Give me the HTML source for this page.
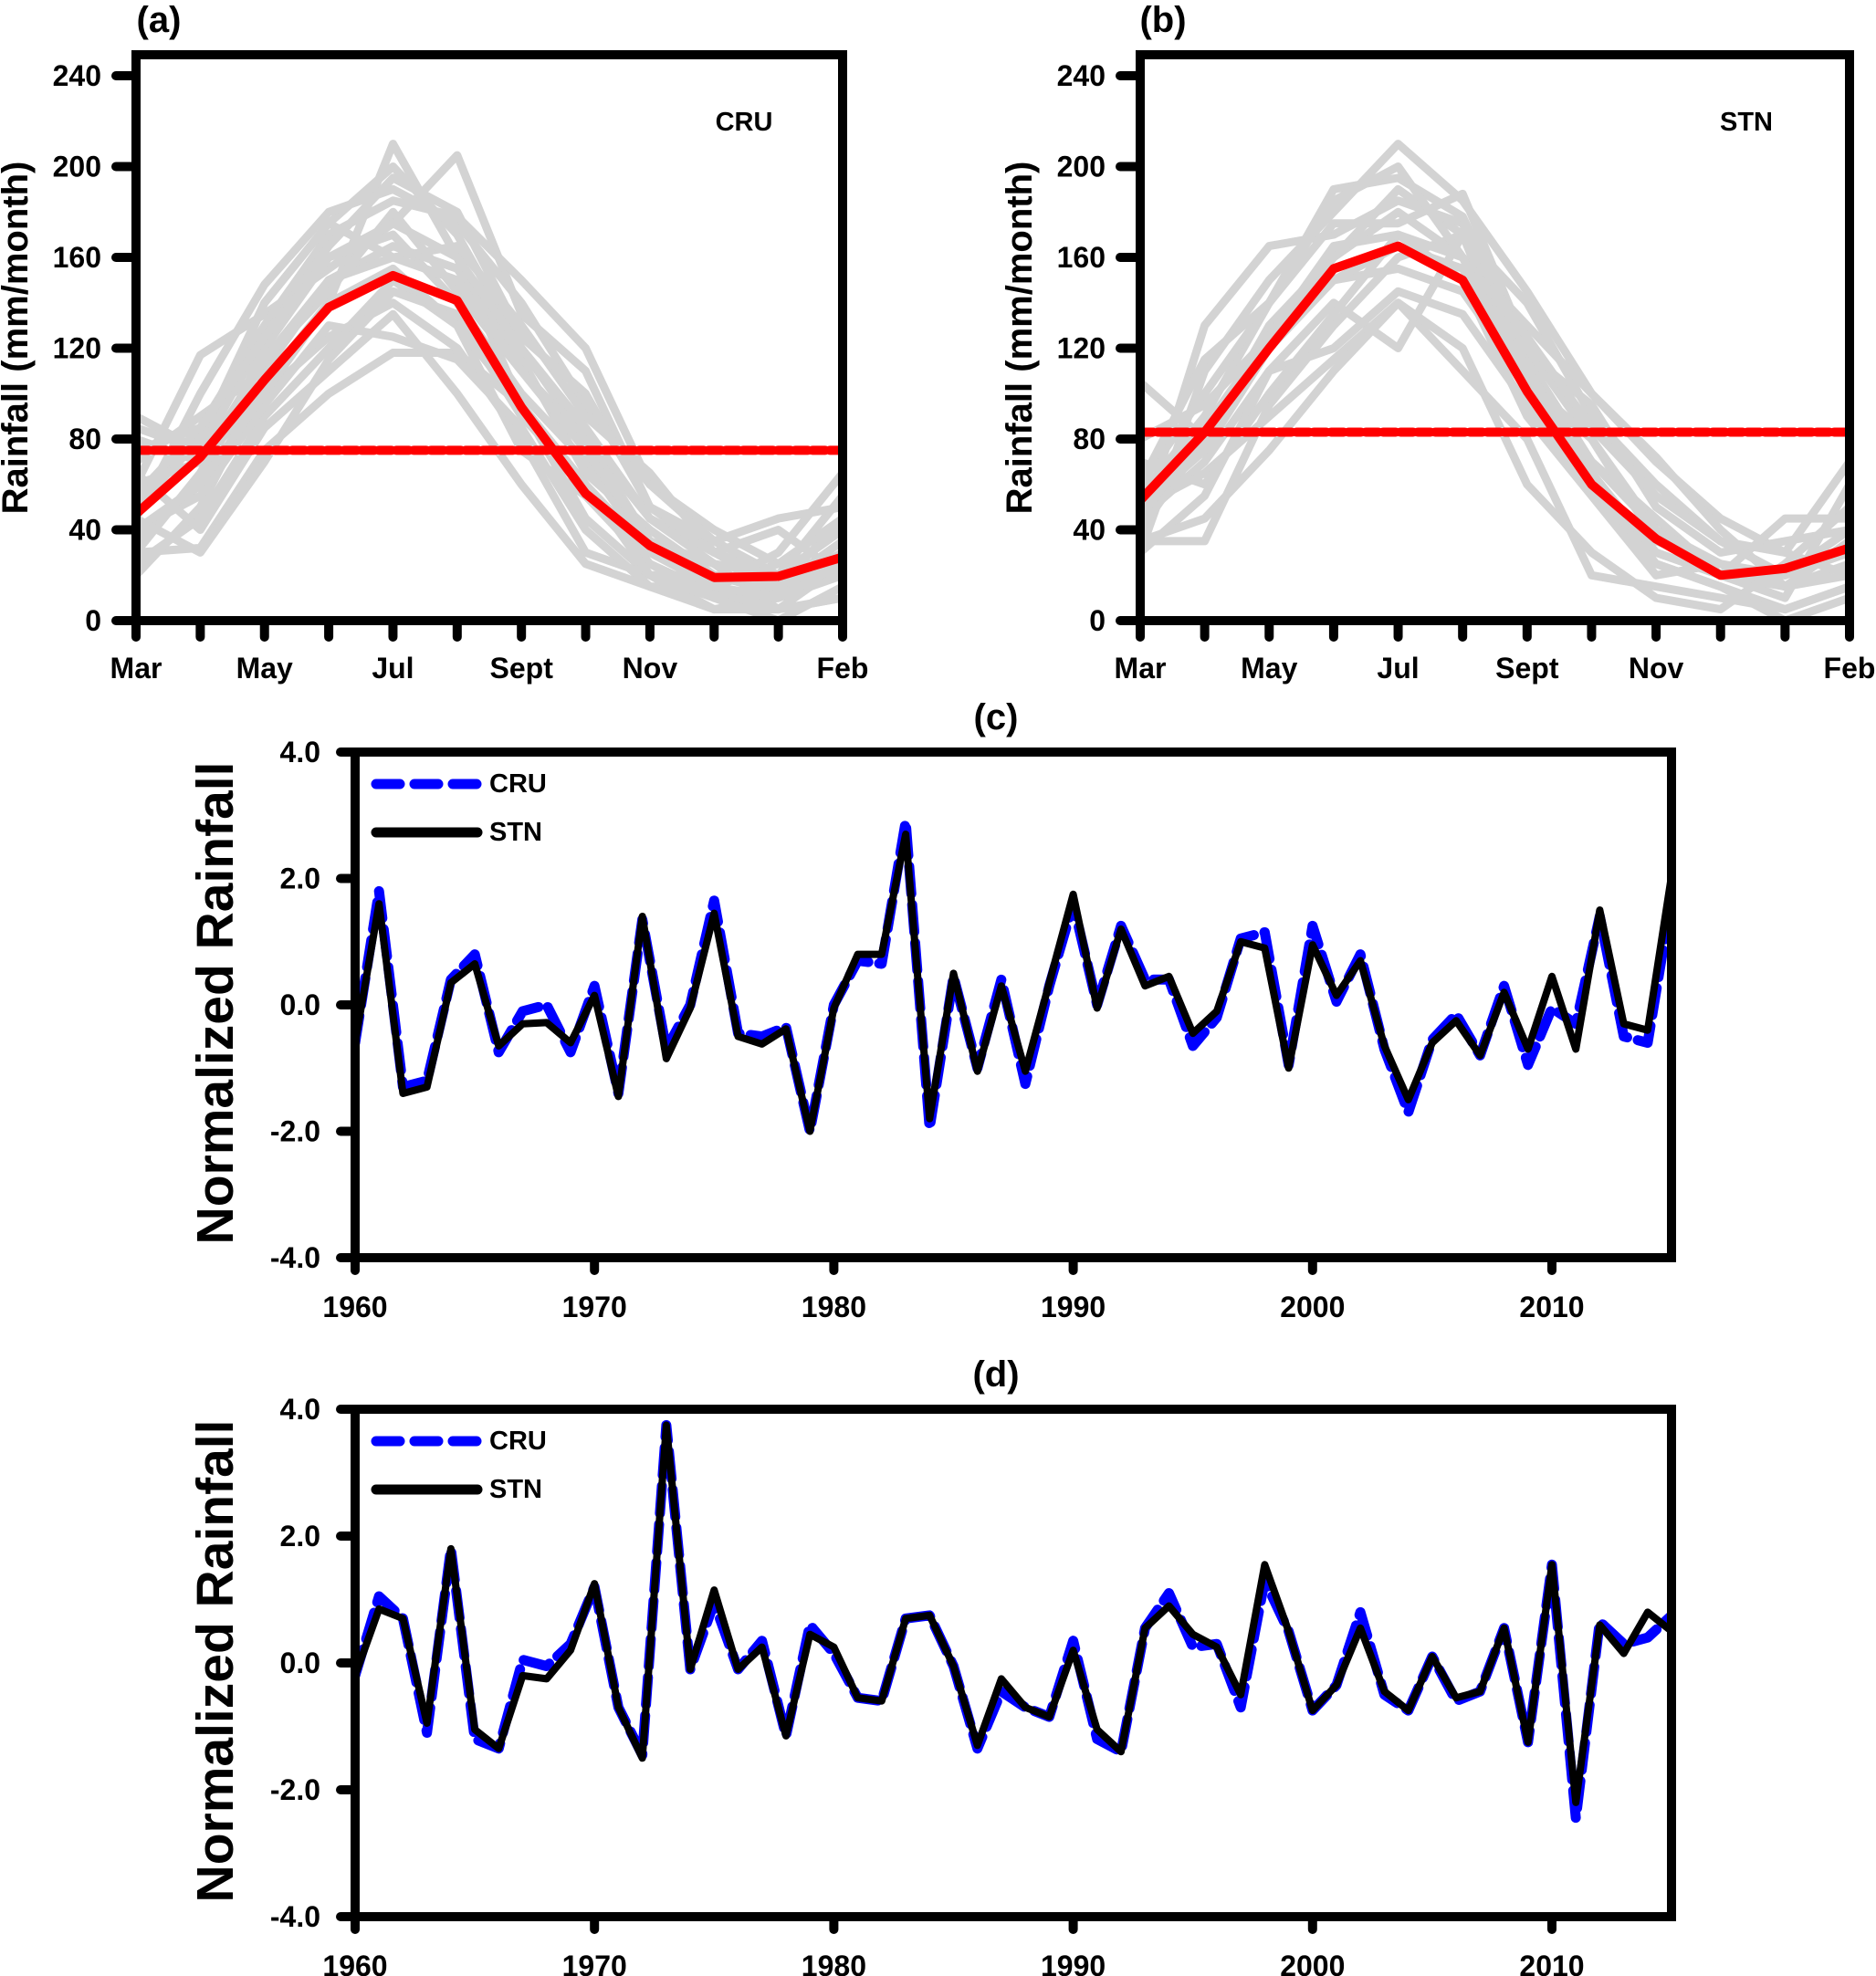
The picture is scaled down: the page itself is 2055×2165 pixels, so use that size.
<!DOCTYPE html>
<html><head><meta charset="utf-8"><style>
html,body{margin:0;padding:0;background:#fff;}
svg{display:block;font-family:"Liberation Sans",Arial,sans-serif;font-weight:bold;}
</style></head><body>
<svg id="fig" width="2055" height="2165" viewBox="0 0 2055 2165" xmlns="http://www.w3.org/2000/svg"></svg>
<script>
const months = ["Mar","Apr","May","Jun","Jul","Aug","Sep","Oct","Nov","Dec","Jan","Feb"];
const monthLabels = ["Mar","","May","","Jul","","Sept","","Nov","","","Feb"];
const rainTicks = [0,40,80,120,160,200,240];
const normTicks = [-4,-2,0,2,4];
const normTickLabels = ["-4.0","-2.0","0.0","2.0","4.0"];
const yearTicks = [1960,1970,1980,1990,2000,2010];

const meanCRU = [47,72,106,138,152,141,94,56,33,19,19.5,28];
const annualCRU = 75;
const meanSTN = [53,83,120,155,165,150,101,60,36,20,23,32];
const annualSTN = 83;

const grayCRU = [
[90,75,140,175,200,170,120,80,45,30,20,40],
[30,32,75,100,118,118,95,60,25,12,5,10],
[20,50,105,140,210,160,95,45,20,5,10,30],
[60,117,135,155,175,205,135,110,50,30,15,45],
[45,100,148,180,190,175,140,95,60,40,25,20],
[35,60,120,160,170,140,100,70,30,15,25,45],
[80,70,100,125,140,120,80,30,20,10,10,20],
[55,85,130,170,185,178,150,120,60,35,20,55],
[25,45,90,120,150,130,75,55,25,10,0,15],
[70,90,110,150,165,155,115,65,40,20,15,35],
[40,55,95,130,125,115,85,40,15,15,30,65],
[50,80,140,175,160,165,130,90,65,30,40,20],
[65,40,85,110,135,100,60,25,15,5,5,25],
[30,65,115,145,180,145,110,80,35,25,5,10],
[85,75,125,165,195,180,125,100,50,35,45,50],
[45,30,70,115,145,135,90,60,20,20,12,30],
[60,70,115,150,160,150,110,75,35,20,15,30],
[40,60,100,140,155,130,95,60,30,15,10,25],
[75,85,125,160,175,160,120,85,45,25,20,40]
];
const graySTN = [
[105,80,130,160,190,170,140,90,60,35,20,40],
[35,35,95,130,160,170,115,70,45,20,10,60],
[40,130,165,170,185,175,110,60,25,15,5,15],
[30,110,150,180,210,185,145,100,70,45,30,70],
[55,90,140,190,195,178,118,95,50,30,35,40],
[45,70,110,140,120,170,100,65,30,20,15,20],
[60,100,140,175,175,188,120,80,40,25,20,30],
[30,55,110,120,145,135,95,60,25,15,0,10],
[80,95,125,160,180,160,130,100,72,40,15,25],
[50,65,90,115,140,110,80,20,15,10,5,15],
[40,80,125,150,155,145,105,65,30,20,45,45],
[70,60,100,135,170,150,90,55,20,25,15,35],
[35,45,75,110,140,120,60,30,10,5,25,50],
[60,115,140,185,200,160,125,85,55,35,30,20],
[50,75,120,150,165,155,110,70,40,20,20,30],
[45,85,125,165,170,160,105,80,35,25,15,35]
];

const years = [];
for (let y = 1960; y <= 2015; y++) years.push(y);
const cCRU = [-0.6,1.8,-1.3,-1.2,0.4,0.8,-0.75,-0.1,0.0,-0.75,0.3,-1.4,1.35,-0.7,0.0,1.65,-0.45,-0.5,-0.35,-2.0,0.0,0.7,0.65,2.9,-1.95,0.45,-1.0,0.4,-1.25,0.3,1.6,0.0,1.25,0.4,0.4,-0.65,-0.2,1.05,1.15,-0.95,1.25,0.05,0.8,-0.7,-1.7,-0.55,-0.15,-0.8,0.3,-0.95,-0.05,-0.3,1.4,-0.5,-0.6,1.7];
const cSTN = [-0.6,1.6,-1.4,-1.3,0.35,0.65,-0.65,-0.3,-0.28,-0.6,0.15,-1.45,1.4,-0.85,-0.05,1.45,-0.5,-0.62,-0.38,-2.0,-0.05,0.8,0.8,2.7,-1.8,0.5,-1.05,0.3,-1.05,0.35,1.75,-0.05,1.2,0.3,0.45,-0.45,-0.1,1.0,0.9,-1.0,0.95,0.15,0.7,-0.65,-1.5,-0.6,-0.25,-0.8,0.2,-0.7,0.45,-0.7,1.5,-0.3,-0.4,2.05];
const dCRU = [-0.2,1.05,0.7,-1.1,1.8,-1.2,-1.35,0.05,-0.05,0.3,1.2,-0.7,-1.45,3.75,-0.1,0.95,-0.1,0.35,-1.15,0.6,0.15,-0.55,-0.6,0.7,0.75,-0.05,-1.35,-0.45,-0.7,-0.85,0.35,-1.2,-1.4,0.55,1.1,0.25,0.3,-0.7,1.3,0.5,-0.75,-0.35,0.8,-0.5,-0.75,0.1,-0.6,-0.45,0.55,-1.25,1.55,-2.45,0.65,0.3,0.4,0.75];
const dSTN = [-0.2,0.85,0.7,-0.95,1.8,-1.05,-1.35,-0.2,-0.25,0.2,1.25,-0.7,-1.5,3.75,-0.1,1.15,-0.1,0.25,-1.15,0.45,0.25,-0.55,-0.6,0.7,0.75,-0.05,-1.3,-0.25,-0.7,-0.85,0.2,-1.05,-1.4,0.55,0.9,0.45,0.25,-0.5,1.55,0.5,-0.75,-0.35,0.55,-0.45,-0.75,0.1,-0.55,-0.45,0.55,-1.25,1.55,-2.2,0.6,0.15,0.8,0.5];

const NS = "http://www.w3.org/2000/svg";
const svg = document.getElementById("fig");
function mk(tag, attrs, parent) {
  const e = document.createElementNS(NS, tag);
  for (const k in attrs) e.setAttribute(k, attrs[k]);
  (parent || svg).appendChild(e);
  return e;
}
function txt(s, x, y, size, anchor, parent) {
  const t = mk("text", {x: x, y: y, "font-size": size, "text-anchor": anchor || "middle", "dominant-baseline": "central", fill: "#000"}, parent);
  t.textContent = s;
  return t;
}
function poly(pts, stroke, w, parent, dash) {
  const a = {points: pts.map(p => p[0].toFixed(1) + "," + p[1].toFixed(1)).join(" "), fill: "none", stroke: stroke, "stroke-width": w, "stroke-linejoin": "round", "stroke-linecap": "round"};
  if (dash) a["stroke-dasharray"] = dash;
  return mk("polyline", a, parent);
}

function climPanel(cfg) {
  const g = mk("g", {});
  
  
  const L = cfg.left, R = cfg.right, top = 60, y0 = 680, pxu = (680 - 83) / 240;
  const xs = i => L + i * (R - L) / 11;
  const ys = v => y0 - v * pxu;
  const cp = mk("clipPath", {id: cfg.name + "-clip"}, g);
  mk("rect", {x: L, y: top, width: R - L, height: y0 - top}, cp);
  const gl = mk("g", {"clip-path": "url(#" + cfg.name + "-clip)"}, g);
  cfg.gray.forEach(s => {
    const p = poly(s.map((v, i) => [xs(i), ys(v)]), "#d3d3d3", 9, gl);
    
    
  });
  const am = poly([[xs(0), ys(cfg.annual)], [xs(11), ys(cfg.annual)]], "#ff0000", 10, gl, "14 5");
  
  
  const mm = poly(cfg.mean.map((v, i) => [xs(i), ys(v)]), "#ff0000", 10, gl);
  
  
  const fr = mk("rect", {x: L, y: top, width: R - L, height: y0 - top, fill: "none", stroke: "#000", "stroke-width": 10}, g);
  
  
  rainTicks.forEach(v => {
    mk("line", {x1: L - 22, x2: L, y1: ys(v), y2: ys(v), stroke: "#000", "stroke-width": 10, "stroke-linecap": "round"}, g);
    const t = txt(String(v), L - 38, ys(v), 32, "end", g);
    
    
  });
  months.forEach((m, i) => {
    mk("line", {x1: xs(i), x2: xs(i), y1: y0, y2: y0 + 18, stroke: "#000", "stroke-width": 10, "stroke-linecap": "round"}, g);
    if (monthLabels[i]) {
      const t = txt(monthLabels[i], xs(i), 732, 32, "middle", g);
      
      
    }
  });
  const yt = txt("Rainfall (mm/month)", 0, 0, 40, "middle", g);
  yt.setAttribute("transform", "translate(" + (L - 132) + ",370) rotate(-90)");
  
  
  const pl = txt(cfg.letter, L + 25, 22, 40, "middle", g);
  
  
  const dl = txt(cfg.label, cfg.labelX, 134, 29, "middle", g);
  
  
}

function tsPanel(cfg) {
  const g = mk("g", {});
  
  
  const L = 389, R = 1831, top = cfg.top, bot = cfg.bot;
  const xs = yr => L + (yr - 1960) * (1700 - 389) / 50;
  const mid = (top + bot) / 2, pxu = (bot - top) / 8;
  const ys = v => mid - v * pxu;
  const cp = mk("clipPath", {id: cfg.name + "-clip"}, g);
  mk("rect", {x: L, y: top, width: R - L, height: bot - top}, cp);
  const gl = mk("g", {"clip-path": "url(#" + cfg.name + "-clip)"}, g);
  const c = poly(cfg.cru.map((v, i) => [xs(years[i]), ys(v)]), "#0000ff", 11, gl, "30 12");
  
  
  const s = poly(cfg.stn.map((v, i) => [xs(years[i]), ys(v)]), "#000", 8, gl);
  
  
  const fr = mk("rect", {x: L, y: top, width: R - L, height: bot - top, fill: "none", stroke: "#000", "stroke-width": 10}, g);
  
  
  normTicks.forEach((v, i) => {
    mk("line", {x1: L - 16, x2: L, y1: ys(v), y2: ys(v), stroke: "#000", "stroke-width": 10, "stroke-linecap": "round"}, g);
    const t = txt(normTickLabels[i], L - 38, ys(v), 32, "end", g);
    
    
  });
  yearTicks.forEach(yr => {
    mk("line", {x1: xs(yr), x2: xs(yr), y1: bot, y2: bot + 14, stroke: "#000", "stroke-width": 10, "stroke-linecap": "round"}, g);
    const t = txt(String(yr), xs(yr), bot + 54, 32, "middle", g);
    
    
  });
  const ly1 = top + 35, ly2 = top + 88;
  const l1 = mk("line", {x1: 412, x2: 523, y1: ly1, y2: ly1, stroke: "#0000ff", "stroke-width": 11, "stroke-linecap": "round", "stroke-dasharray": "26 16"}, g);
  
  
  const t1 = txt("CRU", 536, ly1, 29, "start", g);
  
  
  const l2 = mk("line", {x1: 412, x2: 523, y1: ly2, y2: ly2, stroke: "#000", "stroke-width": 11, "stroke-linecap": "round"}, g);
  
  
  const t2 = txt("STN", 536, ly2, 29, "start", g);
  
  
  const yt = txt("Normalized Rainfall", 0, 0, 57, "middle", g);
  yt.setAttribute("transform", "translate(236," + (mid - 2) + ") rotate(-90)");
  
  
  const pl = txt(cfg.letter, 1091, top - 38, 40, "middle", g);
  
  
}

climPanel({name: "panel-a-cru-climatology", left: 149, right: 923, gray: grayCRU, mean: meanCRU, annual: annualCRU, letter: "(a)", label: "CRU", labelX: 815});
climPanel({name: "panel-b-stn-climatology", left: 1249, right: 2026, gray: graySTN, mean: meanSTN, annual: annualSTN, letter: "(b)", label: "STN", labelX: 1913});
tsPanel({name: "panel-c-timeseries", top: 824, bot: 1378, cru: cCRU, stn: cSTN, letter: "(c)"});
tsPanel({name: "panel-d-timeseries", top: 1544, bot: 2100, cru: dCRU, stn: dSTN, letter: "(d)"});
</script>
</body></html>
